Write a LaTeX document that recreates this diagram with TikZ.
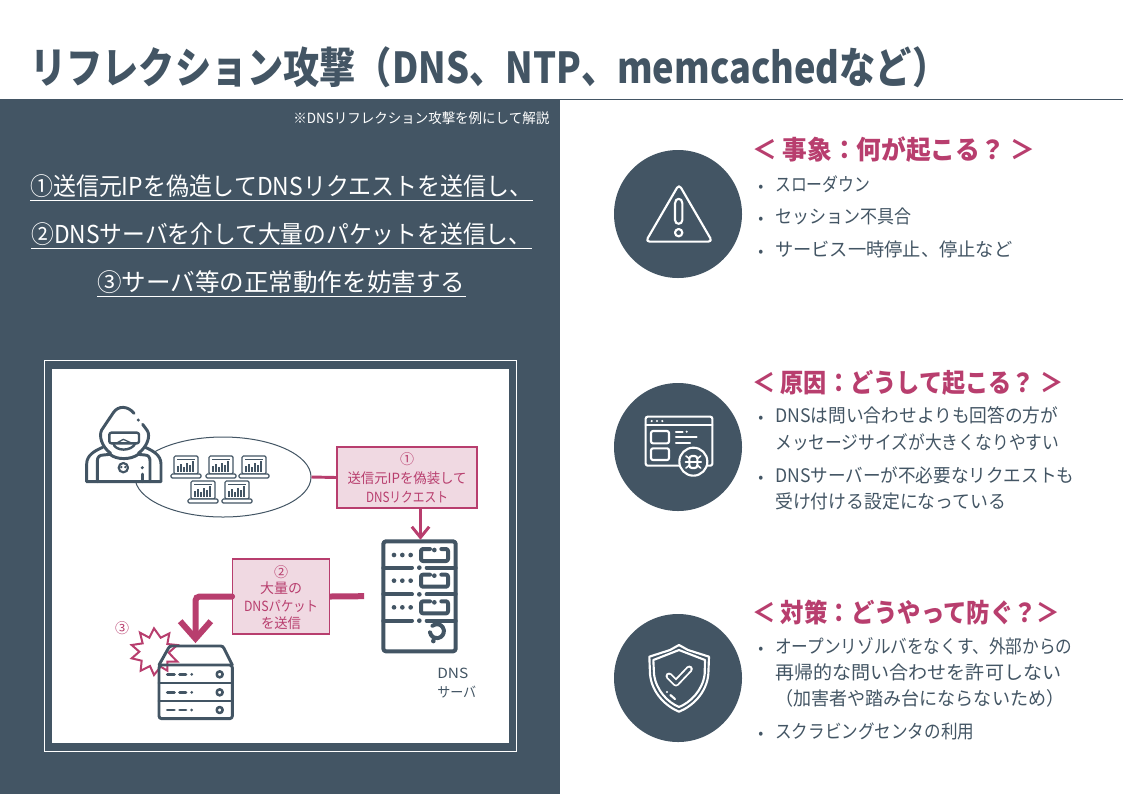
\documentclass[tikz,border=0pt]{standalone}
\usepackage{graphicx}
\usepackage{fontspec}
\setmainfont{Noto Sans CJK JP}
\usetikzlibrary{arrows.meta,shapes.geometric}
\definecolor{slate}{HTML}{435564}
\definecolor{berry}{HTML}{B83E6E}
\definecolor{blush}{HTML}{F0D9E2}
\newlength\fitl
\newcommand\fitw[2]{\settowidth\fitl{#2}\pgfmathsetmacro\fitr{#1*0.75/\fitl}\scalebox{\fitr}[1]{#2}}
\newcommand\fsz[1]{\fontsize{#1}{#1}\selectfont}
\tikzset{
 txt/.style={inner sep=0pt,anchor=base west},
 title/.style={txt,text=slate,font=\fsz{32}\bfseries},
 lead/.style={txt,text=white,font=\fsz{18.5}},
 note/.style={txt,text=white,font=\fsz{10.5}},
 head/.style={txt,text=berry,font=\fsz{19.5}\bfseries},
 body/.style={txt,text=slate,font=\fsz{14}},
 bull/.style={txt,text=slate,font=\fsz{11}},
 boxt/.style={txt,anchor=base,text=berry,font=\fsz{10.5}},
 srvt/.style={txt,text=slate,font=\fsz{10.5}},
 pinkbox/.style={draw=berry,fill=blush,line width=.9pt,inner sep=0pt},
 ico/.style={draw=slate,line width=2.2pt,line cap=round,line join=round},
 wico/.style={draw=white,line width=1.6pt,line cap=round,line join=round},
 badge/.style={circle,fill=slate,minimum size=96pt,inner sep=0pt},
 zoomed/.style={x=.25pt,y=-.25pt},
 laptop/.pic={
  \draw[draw=slate,line width=.9pt,rounded corners=1pt,fill=white] (3,0) rectangle (27,18);
  \draw[draw=slate,line width=.9pt,rounded corners=1pt,fill=white] (0,18) rectangle (30,22);
  \draw[draw=slate,line width=.7pt] (6,3) -- (24,3);
  \foreach \xx/\hh in {7/6,10/8,13/5,16/9,19/7,22/11}{\draw[draw=slate,line width=1pt] (\xx,16) -- (\xx,16-\hh);}
 },
}
\begin{document}
\begin{tikzpicture}[x=.75pt,y=-.75pt]
\useasboundingbox (0,0) rectangle (1123,794);
\fill[white] (0,0) rectangle (1123,794);
% panels
\fill[slate] (0,99) rectangle (560,794);
\draw[slate,line width=.75pt] (560,99) -- (1123,99);
\draw[white,line width=.75pt] (44.5,360.5) rectangle (516.5,751);
\fill[white] (52,369) rectangle (509,743);
% title
\node[title] (ttl) at (30,83) {\fitw{918}{リフレクション攻撃（DNS、NTP、memcachedなど）}};
% left text
\node[note] (nt) at (293,123) {\fitw{256}{※DNSリフレクション攻撃を例にして解説}};
\node[lead] (l1) at (30,195) {\fitw{502}{①送信元IPを偽造してDNSリクエストを送信し、}};
\node[lead] (l2) at (31,243) {\fitw{500}{②DNSサーバを介して大量のパケットを送信し、}};
\node[lead] (l3) at (97,291) {\fitw{368}{③サーバ等の正常動作を妨害する}};
\foreach \n in {l1,l2,l3}{\draw[white,line width=.9pt] ([yshift=-4pt]\n.base west) -- ([yshift=-4pt]\n.base east);}

% bots ellipse
\node[ellipse,draw=slate,line width=.75pt,fill=white,minimum width=132pt,minimum height=60pt,inner sep=0pt] (bots) at (223,477) {};
\foreach \p/\q in {171/456,206/456,239/456,188/481,222/481}{\pic at (\p,\q) {laptop};}
% hacker
\begin{scope}[shift={(60,390)},zoomed]
\fill[white] (80,275) -- (80,215) -- (125,172) -- (122,125) -- (165,60) -- (190,52) -- (222,70) -- (268,125) -- (262,172) -- (303,215) -- (303,275) -- cycle;
\draw[ico] (80,275) -- (303,275) -- (303,222) .. controls (303,195) and (278,182) .. (256,172);
\draw[ico] (80,275) -- (80,222) .. controls (80,195) and (105,182) .. (128,172);
\draw[ico] (222,70) .. controls (205,48) and (175,45) .. (160,68) -- (125,120) .. controls (116,138) and (125,170) .. (152,190);
\draw[ico] (248,103) -- (262,122) .. controls (272,138) and (262,170) .. (235,190);
\draw[ico] (112,275) -- (112,212) .. controls (112,200) and (120,195) .. (130,195) -- (150,193) .. controls (170,210) and (212,210) .. (235,193) -- (255,195) .. controls (265,195) and (270,202) .. (270,212) -- (270,275);
\draw[ico,line width=1.8pt,rounded corners=1.5pt] (148,128) rectangle (237,160);
\draw[ico,line width=1.8pt] (160,160) .. controls (165,185) and (215,185) .. (226,160);
\draw[ico,line width=1pt] (172,158) -- (190,148) -- (212,158);
\draw[ico,line width=1.6pt] (190,233) circle (14);
\fill[slate] (184,231) circle (4) (196,231) circle (4);
\fill[slate] (235,90) circle (5) (247,233) circle (5);
\draw[ico] (247,252) -- (247,275);
\end{scope}

% DNS server
\node[draw=none,minimum width=56.25pt,minimum height=84pt,inner sep=0pt] (dnssrv) at (420.5,596) {};
\begin{scope}[shift={(320,440)},zoomed]
\draw[ico,line width=3pt,rounded corners=2pt] (190,304) rectangle (407,634);
\foreach \yy in {383,463,542}{
 \draw[ico,line width=3pt] (190,\yy) -- (276,\yy) (320,\yy) -- (407,\yy);
 \fill[slate] (298,\yy) circle (7);
}
\foreach \yy in {345,422,502}{
 \fill[slate] (222,\yy) circle (7) (247,\yy) circle (7) (272,\yy) circle (7);
 \draw[ico,line width=3pt,rounded corners=1.5pt] (330,\yy-18) -- (303,\yy-18) -- (303,\yy+18) -- (384,\yy+18) -- (384,\yy-18) -- (364,\yy-18);
 \fill[slate] (343,\yy-15) circle (7);
}
\draw[ico,line width=3pt] (330,577) arc[start angle=170,end angle=-130,radius=21];
\fill[slate] (340,603) circle (7);
\end{scope}
\node[srvt] (dnst1) at (437,678) {\fitw{31}{DNS}};
\node[srvt] (dnst2) at (437,697) {\fitw{39}{サーバ}};

% victim server, drawn over the burst
\node[draw=none,minimum width=55pt,minimum height=54pt,inner sep=0pt] (victim) at (195.5,682) {};
\begin{scope}[shift={(90,530)},zoomed]
\draw[draw=berry,line width=1.5pt] (192,295) -- (212,323) -- (238,310) -- (232,342) -- (262,345) -- (236,368) -- (262,395) -- (232,395) -- (232,422) -- (212,410) -- (192,435) -- (180,408) -- (152,422) -- (155,392) -- (125,385) -- (148,365) -- (125,345) -- (158,340) -- (150,308) -- (178,323) -- cycle;
\draw[ico] (207,405) -- (235,355) .. controls (238,350) and (240,348) .. (245,348) -- (392,348) .. controls (397,348) and (399,350) .. (402,355) -- (427,405);
\draw[ico,rounded corners=2pt] (207,405) rectangle (427,566);
\draw[ico] (207,459) -- (427,459) (207,513) -- (427,513);
\foreach \yy in {433,487,540}{
 \draw[ico] (232,\yy) -- (253,\yy) (269,\yy) -- (288,\yy);
 \fill[slate] (305,\yy) circle (4.5);
 \draw[ico,line width=1.9pt] (389,\yy) circle (9);
}
\end{scope}
\node[txt,anchor=base,text=berry,font=\fsz{10.5}] (n3) at (122,633) {③};

% boxes
\node[pinkbox,minimum width=105pt,minimum height=45.75pt] (box1) at (407,477.5) {};
\node[boxt] (b1a) at (407,464) {①};
\node[boxt] (b1b) at (407,483) {\fitw{119}{送信元IPを偽装して}};
\node[boxt] (b1c) at (407,502) {\fitw{82}{DNSリクエスト}};
\node[pinkbox,minimum width=72.5pt,minimum height=56.25pt] (box2) at (281,596.5) {};
\node[boxt] (b2a) at (281,577) {②};
\node[boxt] (b2b) at (281,593) {\fitw{42}{大量の}};
\node[boxt] (b2c) at (281,611) {\fitw{74}{DNSパケット}};
\node[boxt] (b2d) at (281,628) {\fitw{40}{を送信}};

% connectors
\draw[berry,line width=2.2pt] (bots.east) -- (box1.west);
\draw[berry,line width=2.2pt,-{Straight Barb[length=8pt,width=13pt]},line cap=round] (box1.south -| dnssrv.north) -- (dnssrv.north);
\draw[berry,line width=4.5pt,shorten <=14pt] (dnssrv.west) -- (box2.east);
\draw[berry,line width=4.5pt,rounded corners=3pt,-{Straight Barb[length=13pt,width=23pt]},line cap=round,shorten >=2pt] (box2.west) -| (victim.north);

% badges
\node[badge] (c1) at (678,214) {};
\node[badge] (c2) at (678,447) {};
\node[badge] (c3) at (678,678) {};
\begin{scope}[shift={(600,140)},zoomed]
\draw[wico,rounded corners=3pt] (237,133) -- (137,305) -- (337,305) -- cycle;
\draw[wico] (225,190) .. controls (225,172) and (247,172) .. (247,190) -- (247,240) .. controls (247,255) and (225,255) .. (225,240) -- cycle;
\draw[wico] (236,278) circle (11);
\end{scope}
\begin{scope}[shift={(600,370)},zoomed]
\draw[wico,rounded corners=1.5pt] (137,140) rectangle (337,287);
\draw[wico] (137,165) -- (337,165);
\fill[white] (155,153) circle (3.5) (171,153) circle (3.5) (187,153) circle (3.5);
\draw[wico,rounded corners=1.5pt] (153,183) rectangle (207,220) (153,235) rectangle (207,270);
\draw[wico] (228,185) -- (248,185) (228,202) -- (290,202) (228,218) -- (270,218);
\fill[white] (260,185) circle (3.5);
\draw[wico,fill=slate] (280,275) circle (42);
\draw[wico,rounded corners=2pt] (268,258) rectangle (292,294);
\draw[wico,line width=1.2pt] (268,276) -- (292,276) (268,266) -- (258,258) (292,266) -- (302,258) (268,276) -- (256,276) (292,276) -- (304,276) (268,286) -- (258,294) (292,286) -- (302,294);
\end{scope}
\begin{scope}[shift={(600,600)},zoomed]
\draw[wico] (237,135) -- (210,150) -- (148,170) -- (150,222) .. controls (155,280) and (200,320) .. (237,335) .. controls (275,320) and (320,280) .. (325,222) -- (327,170) -- (264,150) -- cycle;
\draw[wico] (237,150) -- (160,180) -- (162,222) .. controls (168,272) and (205,308) .. (237,321) .. controls (270,308) and (308,272) .. (314,222) -- (315,180) -- cycle;
\draw[white,line width=5.2pt,line cap=round,line join=round] (207,228) -- (228,249) -- (268,207);
\draw[slate,line width=2.4pt,line cap=round,line join=round] (207,228) -- (228,249) -- (268,207);
\fill[white] (201,276) circle (3.5);
\draw[wico] (211,285) -- (225,297);
\end{scope}

% right section 1
\node[head] (h1) at (752,159) {\fitw{283}{＜ 事象：何が起こる？ ＞}};
\node[bull] (p1) at (758,191) {•};
\node[body] (a1) at (775,191) {\fitw{95}{スローダウン}};
\node[bull] (p2) at (758,223) {•};
\node[body] (a2) at (775,223) {\fitw{136}{セッション不具合}};
\node[bull] (p3) at (758,256) {•};
\node[body] (a3) at (775,256) {\fitw{237}{サービス一時停止、停止など}};
% right section 2
\node[head] (h2) at (752,392) {\fitw{311}{＜ 原因：どうして起こる？ ＞}};
\node[bull] (p4) at (758,422) {•};
\node[body] (b1) at (775,422) {\fitw{283}{DNSは問い合わせよりも回答の方が}};
\node[body] (b2) at (775,449) {\fitw{284}{メッセージサイズが大きくなりやすい}};
\node[bull] (p5) at (758,482) {•};
\node[body] (b3) at (775,482) {\fitw{299}{DNSサーバーが不必要なリクエストも}};
\node[body] (b4) at (775,508) {\fitw{231}{受け付ける設定になっている}};
% right section 3
\node[head] (h3) at (752,622) {\fitw{308}{＜ 対策：どうやって防ぐ？＞}};
\node[bull] (p6) at (758,653) {•};
\node[body] (d1) at (775,653) {\fitw{297}{オープンリゾルバをなくす、外部からの}};
\node[body] (d2) at (775,679) {\fitw{286}{再帰的な問い合わせを許可しない}};
\node[body] (d3) at (775,705) {\fitw{289}{（加害者や踏み台にならないため）}};
\node[bull] (p7) at (758,738) {•};
\node[body] (d4) at (775,738) {\fitw{199}{スクラビングセンタの利用}};
\end{tikzpicture}
\end{document}
